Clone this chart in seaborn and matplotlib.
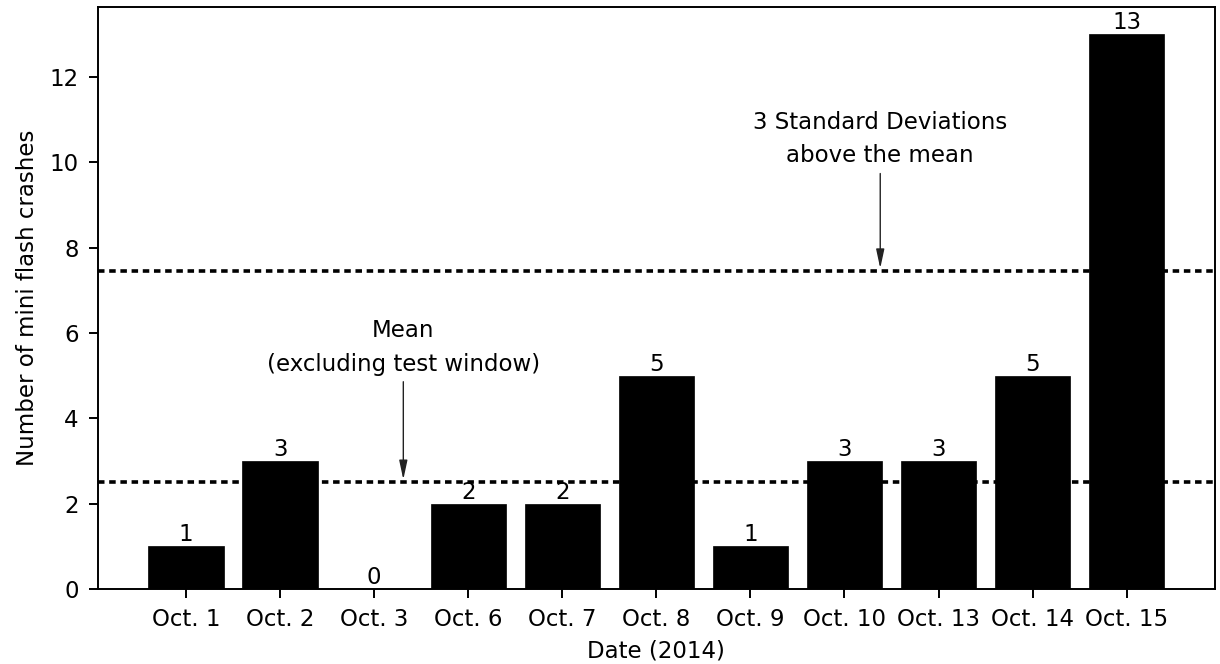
import matplotlib
matplotlib.use("Agg")
import matplotlib.pyplot as plt
import seaborn as sns

dates = ["Oct. 1", "Oct. 2", "Oct. 3", "Oct. 6", "Oct. 7", "Oct. 8",
         "Oct. 9", "Oct. 10", "Oct. 13", "Oct. 14", "Oct. 15"]
crashes = [1, 3, 0, 2, 2, 5, 1, 3, 3, 5, 13]
mean_level = 2.5
three_sd_level = 7.45

sns.set_style("ticks")
plt.rcParams["font.family"] = ["DejaVu Sans"]
plt.rcParams["font.size"] = 16.5
plt.rcParams["text.color"] = "black"
plt.rcParams["axes.labelcolor"] = "black"
plt.rcParams["xtick.color"] = "black"
plt.rcParams["ytick.color"] = "black"
plt.rcParams["axes.edgecolor"] = "black"

fig, ax = plt.subplots(figsize=(12.2, 6.64), dpi=100)
fig.subplots_adjust(left=0.08, right=0.996, bottom=0.113, top=0.99)

sns.barplot(x=dates, y=crashes, color="black", saturation=1, width=0.8,
            edgecolor="black", linewidth=0.5, ax=ax)
ax.bar_label(ax.containers[0], fontsize=16.5, padding=0, color="black")

# dotted reference lines
dots = (0, (1.8, 1.3))
ax.axhline(mean_level, color="black", lw=2.6, linestyle=dots)
ax.axhline(three_sd_level, color="black", lw=2.6, linestyle=dots)

arrow = dict(arrowstyle="-|>,head_length=0.7,head_width=0.15", color="#222222", lw=1.0)
ax.annotate("Mean\n(excluding test window)", xy=(2.31, mean_level), xytext=(2.31, 5.0),
            ha="center", va="bottom", fontsize=16.5, linespacing=1.6, arrowprops=arrow)
ax.annotate("3 Standard Deviations\nabove the mean", xy=(7.38, three_sd_level), xytext=(7.38, 9.88),
            ha="center", va="bottom", fontsize=16.5, linespacing=1.6, arrowprops=arrow)

ax.set_xlim(-0.94, 10.94)
ax.set_ylim(0, 13.65)
ax.set_xlabel("Date (2014)", fontsize=16.5, labelpad=6)
ax.set_ylabel("Number of mini flash crashes", fontsize=16.5, labelpad=8)
ax.tick_params(labelsize=16.5, length=6.5, width=1.4, pad=7)
for s in ax.spines.values():
    s.set_visible(True)
    s.set_linewidth(1.4)

fig.savefig("out.png", dpi=100)
